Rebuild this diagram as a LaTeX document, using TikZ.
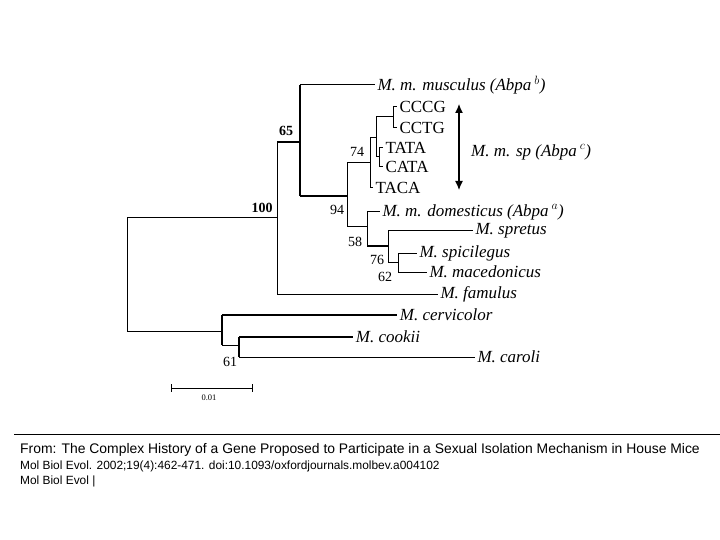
\documentclass[tikz,border=0pt]{standalone}
\usetikzlibrary{arrows.meta}
\usepackage{fontspec}
\setmainfont{Liberation Serif}
\newfontfamily\sansf{Liberation Sans}
\begin{document}
\begin{tikzpicture}[x=1pt,y=-1pt,
  br/.style={line width=1pt},
  tk/.style={line width=1.8pt},
  sp/.style={anchor=west,font=\fontsize{17}{17}\selectfont\itshape,inner sep=2pt},
  hp/.style={anchor=west,font=\fontsize{17}{17}\selectfont,inner sep=2pt},
  bs/.style={font=\fontsize{14}{14}\selectfont,inner sep=0pt},
  ft/.style={anchor=west,font=\sansf\fontsize{11.9}{11.9}\selectfont,inner sep=0pt}]
\useasboundingbox (0,0) rectangle (720,540);
% root
\draw[br] (127,218) -- (127,331);
\draw[br] (127,218) -- (277,218);
\draw[br] (127,331) -- (222,331);
% node 100
\draw[br] (277,142) -- (277,294);
\draw[tk] (277,142) -- (300,142);
\draw[br] (277,294) -- (438,294) node[sp] (fam) {M. famulus};
% node 65
\draw[tk] (300,85) -- (300,196);
\draw[br] (300,85) -- (375,85) node[sp] (mus) {M. m. musculus (Abpa\,$^{b}$)};
\draw[tk] (300,196) -- (347,196);
% node 94
\draw[br] (347,163) -- (347,227);
\draw[br] (347,163) -- (370,163);
\draw[br] (370,138) -- (370,188);
\draw[br] (370,188) -- (373,188) node[hp] (taca) {TACA};
\draw[br] (370,138) -- (376,138);
\draw[br] (376,117) -- (376,157);
\draw[br] (376,117) -- (393,117);
\draw[br] (393,107) -- (393,128);
\draw[br] (393,107) -- (397,107) node[hp] (cccg) {CCCG};
\draw[br] (393,128) -- (397,128) node[hp] (cctg) {CCTG};
\draw[br] (376,157) -- (379,157);
\draw[br] (379,148) -- (379,167);
\draw[br] (379,148) -- (383,148) node[hp] (tata) {TATA};
\draw[br] (379,167) -- (383,167) node[hp] (cata) {CATA};
\coordinate (at) at (459,104);
\coordinate (ab) at (459,190);
\draw[line width=1.2pt,-{Latex[length=9pt,width=8pt]}] (459,147) -- (at);
\draw[line width=1.2pt,-{Latex[length=9pt,width=8pt]}] (459,147) -- (ab);
\node[sp] (mmsp) at (469,152) {M. m. sp (Abpa\,$^{c}$)};
% lower
\draw[br] (347,227) -- (367,227);
\draw[br] (367,212) -- (367,246);
\draw[br] (367,212) -- (380,212) node[sp] (dom) {M. m. domesticus (Abpa\,$^{a}$)};
\draw[tk] (367,246) -- (388,246);
\draw[br] (388,231) -- (388,262);
\draw[br] (388,231) -- (473,231) node[sp] (spr) {M. spretus};
\draw[br] (388,262) -- (398,262);
\draw[br] (398,253) -- (398,272);
\draw[br] (398,253) -- (417,253) node[sp] (spi) {M. spicilegus};
\draw[br] (398,272) -- (427,272) node[sp] (mac) {M. macedonicus};
% cervicolor clade
\draw[tk] (222,315) -- (222,345);
\draw[tk] (222,315) -- (397,315) node[sp] (cer) {M. cervicolor};
\draw[br] (222,345) -- (239,345);
\draw[tk] (239,337) -- (239,357);
\draw[tk] (239,337) -- (353,337) node[sp] (coo) {M. cookii};
\draw[br] (239,357) -- (475,357) node[sp] (car) {M. caroli};
% bootstrap
\node[bs,font=\bfseries\fontsize{14}{14}\selectfont] (b65) at (286,131) {65};
\node[bs,font=\bfseries\fontsize{14}{14}\selectfont] (b100) at (262,208) {100};
\node[bs] (b74) at (357,152) {74};
\node[bs] (b94) at (337,210) {94};
\node[bs] (b58) at (355,242) {58};
\node[bs] (b76) at (377,260) {76};
\node[bs] (b62) at (385,277) {62};
\node[bs] (b61) at (230,362) {61};
% scale
\draw[line width=0.8pt] (171,384) -- (171,392) (252,384) -- (252,392) (171,388) -- (252,388);
\node[font=\fontsize{8.5}{8.5}\selectfont,inner sep=0pt] (sc) at (209,398) {0.01};
% footer
\draw[line width=0.8pt] (14,434) -- (720,434);
\node[ft,font=\sansf\fontsize{13.9}{13.9}\selectfont] (f1) at (20,450) {From: The Complex History of a Gene Proposed to Participate in a Sexual Isolation Mechanism in House Mice};
\node[ft] (f2) at (20,466) {Mol Biol Evol. 2002;19(4):462-471. doi:10.1093/oxfordjournals.molbev.a004102};
\node[ft] (f3) at (20,481) {Mol Biol Evol |};
\end{tikzpicture}
\end{document}
